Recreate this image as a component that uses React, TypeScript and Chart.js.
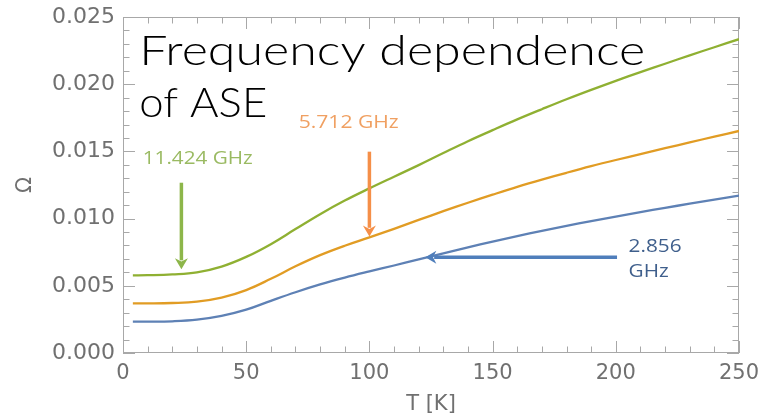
import React, { useEffect, useRef } from "react";
import { Chart, registerables } from "chart.js";

Chart.register(...registerables);

// ---- data ----
const temperatures = [4, 10, 20, 30, 40, 50, 60, 70, 80, 90, 100, 110, 120, 130, 140, 150, 160, 170, 180, 190, 200, 210, 220, 230, 240, 250];
const omega11424 = [0.00578, 0.00579, 0.00585, 0.006, 0.00643, 0.00715, 0.0081, 0.00922, 0.01033, 0.01134, 0.01225, 0.01312, 0.01398, 0.01488, 0.01576, 0.01658, 0.01738, 0.01814, 0.01888, 0.01958, 0.02025, 0.0209, 0.02152, 0.02215, 0.02275, 0.02335];
const omega5712 = [0.00369, 0.00369, 0.00372, 0.00382, 0.00412, 0.00468, 0.00552, 0.00645, 0.00728, 0.00798, 0.0086, 0.00924, 0.0099, 0.01055, 0.01118, 0.01178, 0.01236, 0.0129, 0.01341, 0.0139, 0.01436, 0.0148, 0.01524, 0.01567, 0.0161, 0.01652];
const omega2856 = [0.00233, 0.00233, 0.00236, 0.00248, 0.00276, 0.00322, 0.00388, 0.00452, 0.0051, 0.00561, 0.00607, 0.00651, 0.00696, 0.00741, 0.00786, 0.00829, 0.0087, 0.00909, 0.00946, 0.00981, 0.01015, 0.01048, 0.0108, 0.01111, 0.01141, 0.01171];

const xTickStep = 50;
const xMinorStep = 10;
const yTickStep = 0.005;
const yMinorStep = 0.001;

const titleLines = ["Frequency dependence", "of ASE"];
const labelGreen = "11.424 GHz";
const labelOrange = "5.712 GHz";
const labelBlue = ["2.856", "GHz"];

// annotation anchors in data units
const titleAnchor = { t: 6.6, v1: 0.02142, v2: 0.01756 };
const greenLabelAnchor = { t: 8.0, v: 0.01406 };
const greenArrow = { t: 23.7, from: 0.01267, to: 0.00624 };
const orangeLabelAnchor = { t: 71.3, v: 0.01672 };
const orangeArrow = { t: 100, from: 0.01498, to: 0.00866 };
const blueLabelAnchor = { t: 205.2, v1: 0.00755, v2: 0.00569 };
const blueArrow = { v: 0.00713, from: 200.5, to: 122.7 };

const C_BLUE = "#5E81B5";
const C_ORANGE = "#E19C24";
const C_GREEN = "#8FB032";

function fitText(ctx: CanvasRenderingContext2D, text: string, x: number, y: number, font: string, color: string, sx: number) {
  ctx.save();
  ctx.font = font;
  ctx.fillStyle = color;
  ctx.textBaseline = "alphabetic";
  ctx.textAlign = "left";
  ctx.translate(x, y);
  ctx.scale(sx, 1);
  ctx.fillText(text, 0, 0);
  ctx.restore();
}

function scaleFor(ctx: CanvasRenderingContext2D, text: string, font: string, width: number) {
  ctx.save();
  ctx.font = font;
  const w = ctx.measureText(text).width;
  ctx.restore();
  return w > 0 ? width / w : 1;
}

function arrow(ctx: CanvasRenderingContext2D, x1: number, y1: number, x2: number, y2: number, color: string) {
  const len = Math.hypot(x2 - x1, y2 - y1);
  const ux = (x2 - x1) / len;
  const uy = (y2 - y1) / len;
  const headLen = 11;
  const headW = 6.5;
  ctx.save();
  ctx.strokeStyle = color;
  ctx.fillStyle = color;
  ctx.lineWidth = 3.5;
  ctx.lineCap = "butt";
  ctx.beginPath();
  ctx.moveTo(x1, y1);
  ctx.lineTo(x2 - ux * headLen * 0.8, y2 - uy * headLen * 0.8);
  ctx.stroke();
  ctx.beginPath();
  ctx.moveTo(x2, y2);
  ctx.lineTo(x2 - ux * headLen - uy * headW, y2 - uy * headLen + ux * headW);
  ctx.lineTo(x2 - ux * headLen * 0.7, y2 - uy * headLen * 0.7);
  ctx.lineTo(x2 - ux * headLen + uy * headW, y2 - uy * headLen - ux * headW);
  ctx.closePath();
  ctx.fill();
  ctx.restore();
}

const framePlugin = {
  id: "frameTicks",
  beforeDatasetsDraw(chart: any) {
    const { ctx, chartArea } = chart;
    const xs = chart.scales.x;
    const ys = chart.scales.y;
    const { left, right, top, bottom } = chartArea;
    ctx.save();
    ctx.strokeStyle = "#a8a8a8";
    ctx.lineWidth = 1;
    ctx.strokeRect(Math.round(left) + 0.5, Math.round(top) + 0.5, Math.round(right - left) - 1, Math.round(bottom - top) - 1);
    ctx.beginPath();
    for (let v = xs.min; v <= xs.max + 1e-9; v += xMinorStep) {
      const major = Math.abs(v / xTickStep - Math.round(v / xTickStep)) < 1e-6;
      const L = major ? 12 : 6.5;
      const px = Math.round(xs.getPixelForValue(v)) + 0.5;
      ctx.moveTo(px, bottom);
      ctx.lineTo(px, bottom - L);
      ctx.moveTo(px, top);
      ctx.lineTo(px, top + L);
    }
    for (let i = 0; i * yMinorStep <= ys.max + 1e-9; i++) {
      const v = i * yMinorStep;
      const major = i % Math.round(yTickStep / yMinorStep) === 0;
      const L = major ? 12 : 6.5;
      const py = Math.round(ys.getPixelForValue(v)) + 0.5;
      ctx.moveTo(left, py);
      ctx.lineTo(left + L, py);
      ctx.moveTo(right, py);
      ctx.lineTo(right - L, py);
    }
    ctx.stroke();
    ctx.restore();
  },
  afterDraw(chart: any) {
    const { ctx } = chart;
    const xs = chart.scales.x;
    const ys = chart.scales.y;
    const X = (t: number) => xs.getPixelForValue(t);
    const Y = (v: number) => ys.getPixelForValue(v);

    const titleFont = "300 42px Lato, 'Noto Sans', sans-serif";
    fitText(ctx, titleLines[0], X(titleAnchor.t), Y(titleAnchor.v1), titleFont, "#000000", scaleFor(ctx, titleLines[0], titleFont, 506));
    fitText(ctx, titleLines[1], X(titleAnchor.t), Y(titleAnchor.v2), titleFont, "#000000", scaleFor(ctx, titleLines[1], titleFont, 128));

    const annFont = "18px 'Open Sans', Lato, sans-serif";
    fitText(ctx, labelGreen, X(greenLabelAnchor.t), Y(greenLabelAnchor.v), annFont, "#9ABA62", scaleFor(ctx, labelGreen, annFont, 110));
    arrow(ctx, X(greenArrow.t), Y(greenArrow.from), X(greenArrow.t), Y(greenArrow.to), "#8DB64A");
    fitText(ctx, labelOrange, X(orangeLabelAnchor.t), Y(orangeLabelAnchor.v), annFont, "#F0A062", scaleFor(ctx, labelOrange, annFont, 100));
    arrow(ctx, X(orangeArrow.t), Y(orangeArrow.from), X(orangeArrow.t), Y(orangeArrow.to), "#F58F48");
    const bs = scaleFor(ctx, labelBlue[0], annFont, 53);
    fitText(ctx, labelBlue[0], X(blueLabelAnchor.t), Y(blueLabelAnchor.v1), annFont, "#3F5F8C", bs);
    fitText(ctx, labelBlue[1], X(blueLabelAnchor.t), Y(blueLabelAnchor.v2), annFont, "#3F5F8C", bs);
    arrow(ctx, X(blueArrow.from), Y(blueArrow.v), X(blueArrow.to), Y(blueArrow.v), "#4F7EBB");
  },
};

export default function App() {
  const ref = useRef<HTMLCanvasElement | null>(null);
  useEffect(() => {
    if (!ref.current) return;
    const mk = (vals: number[]) => temperatures.map((t, i) => ({ x: t, y: vals[i] }));
    const tickFont = { family: "'DejaVu Sans', sans-serif", size: 21 };
    const yTickFont = { family: "'DejaVu Sans', sans-serif", size: 22 };
    const line = { borderWidth: 2.3, pointRadius: 0, tension: 0.4, fill: false };
    const chart = new Chart(ref.current, {
      type: "line",
      data: {
        datasets: [
          { label: "2.856 GHz", data: mk(omega2856), borderColor: C_BLUE, ...line },
          { label: "5.712 GHz", data: mk(omega5712), borderColor: C_ORANGE, ...line },
          { label: "11.424 GHz", data: mk(omega11424), borderColor: C_GREEN, ...line },
        ],
      },
      options: {
        responsive: false,
        animation: false,
        layout: { padding: { top: 17, right: 22, left: 0, bottom: 0 } },
        plugins: { legend: { display: false }, tooltip: { enabled: false } },
        scales: {
          x: {
            type: "linear",
            min: 0,
            max: 250,
            grid: { display: false, drawTicks: false },
            border: { display: false },
            ticks: { stepSize: xTickStep, font: tickFont, color: "#707070", padding: 8, maxRotation: 0 },
            title: { display: true, text: "T [K]", font: tickFont, color: "#707070", padding: { top: 0, bottom: 2 } },
            afterFit: (s: any) => { s.height = 66; s.paddingLeft = 0; s.paddingRight = 0; },
          },
          y: {
            type: "linear",
            min: 0,
            max: 0.025,
            grid: { display: false, drawTicks: false },
            border: { display: false },
            ticks: { stepSize: yTickStep, font: yTickFont, color: "#707070", padding: 8, callback: (v: any) => Number(v).toFixed(3) },
            title: { display: true, text: "Ω", font: tickFont, color: "#707070", padding: { top: 13, bottom: 0 } },
            afterFit: (s: any) => { s.width = 123; s.paddingTop = 0; s.paddingBottom = 0; },
          },
        },
      },
      plugins: [framePlugin],
    } as any);
    return () => chart.destroy();
  }, []);
  return (
    <div style={{ position: "absolute", left: 0, top: 0, width: 761, height: 419, background: "#ffffff" }}>
      <canvas ref={ref} width={761} height={419} />
    </div>
  );
}
